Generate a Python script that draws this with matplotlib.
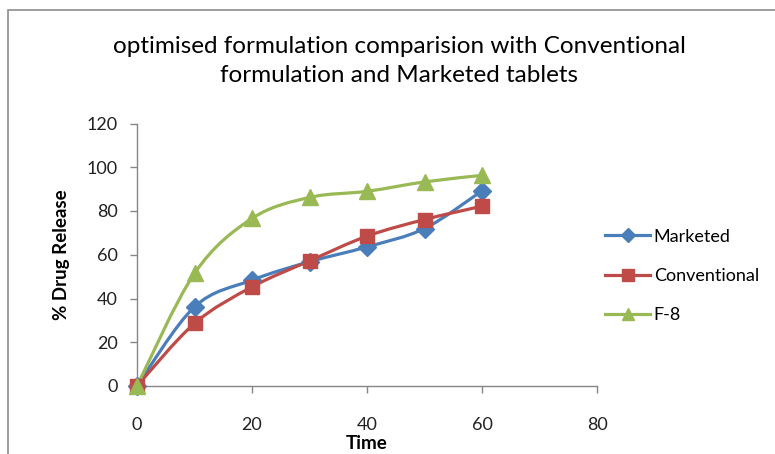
import matplotlib
matplotlib.use("Agg")
import matplotlib.pyplot as plt
from matplotlib.path import Path
from matplotlib.patches import PathPatch, Rectangle
from matplotlib.lines import Line2D
import numpy as np

plt.rcParams['font.family'] = ['Lato', 'DejaVu Sans']

time = [0, 10, 20, 30, 40, 50, 60]
marketed = [0, 36.2, 48.4, 56.8, 63.6, 72.0, 89.2]
conventional = [0, 28.6, 45.3, 57.2, 68.5, 76.1, 82.2]
f8 = [0, 51.5, 76.6, 86.2, 89.0, 93.3, 96.3]

series = [
    ("Marketed", marketed, "#4A7EBB", "D", 9),
    ("Conventional", conventional, "#BE4B48", "s", 10),
    ("F-8", f8, "#98B954", "^", 11),
]

title = "optimised formulation comparision with Conventional\nformulation and Marketed tablets"
x_ticks = [0, 20, 40, 60, 80]
y_ticks = [0, 20, 40, 60, 80, 100, 120]


def smooth_path(xs, ys):
    """Cubic Bezier path through the points (Excel-style smoothed line)."""
    pts = np.column_stack([xs, ys]).astype(float)
    verts = [pts[0]]
    codes = [Path.MOVETO]
    n = len(pts)
    for i in range(n - 1):
        p0 = pts[i - 1] if i > 0 else pts[i]
        p1 = pts[i]
        p2 = pts[i + 1]
        p3 = pts[i + 2] if i + 2 < n else pts[i + 1]
        c1 = p1 + (p2 - p0) / 6.0
        c2 = p2 - (p3 - p1) / 6.0
        verts += [c1, c2, p2]
        codes += [Path.CURVE4] * 3
    return Path(verts, codes)


fig = plt.figure(figsize=(7.75, 4.54), dpi=100)
fig.patch.set_facecolor("white")
# chart-area frame (runs off the right and bottom edges)
fig.patches.append(Rectangle((8 / 775, -20 / 454), 800 / 775, 464 / 454,
                             transform=fig.transFigure, fill=False,
                             edgecolor="#8c8c8c", linewidth=1.2))

ax = fig.add_axes([137 / 775, 1 - 386 / 454, 460 / 775, 262.5 / 454])
ax.set_xlim(0, 80)
ax.set_ylim(0, 120)

handles = []
for name, vals, color, marker, ms in series:
    patch = PathPatch(smooth_path(time, vals), facecolor="none",
                      edgecolor=color, linewidth=2.3, zorder=3,
                      capstyle="round", joinstyle="round")
    patch.set_clip_on(False)
    ax.add_patch(patch)
    ax.plot(time, vals, linestyle="none", marker=marker, markersize=ms,
            color=color, markeredgecolor=color, zorder=4, clip_on=False)
    handles.append(Line2D([], [], color=color, linewidth=2.3,
                          marker=marker, markersize=ms * 0.8, label=name))

for s in ["top", "right"]:
    ax.spines[s].set_visible(False)
for s in ["left", "bottom"]:
    ax.spines[s].set_color("#868686")
    ax.spines[s].set_linewidth(1.0)

ax.set_xticks(x_ticks)
ax.set_yticks(y_ticks)
ax.tick_params(axis="both", direction="out", length=5, color="#868686",
               labelsize=13, labelcolor="#222222", width=1.0)
ax.tick_params(axis="x", pad=17)
ax.tick_params(axis="y", pad=9)

ax.set_xlabel("Time", fontsize=13.5, fontweight="bold", labelpad=2)
ax.set_ylabel("% Drug Release", fontsize=13.5, fontweight="bold", labelpad=12)

fig.text(399 / 775, 1 - 61 / 454, title, ha="center", va="center",
         fontsize=17.5, fontweight="normal", linespacing=1.45, color="#000000")

fig.legend(handles=handles, loc="center left",
           bbox_to_anchor=(596 / 775, 1 - 276 / 454), frameon=False,
           fontsize=13, handlelength=2.5, labelspacing=1.3,
           handletextpad=0.2, borderpad=0)

fig.savefig("out.png", dpi=100)
